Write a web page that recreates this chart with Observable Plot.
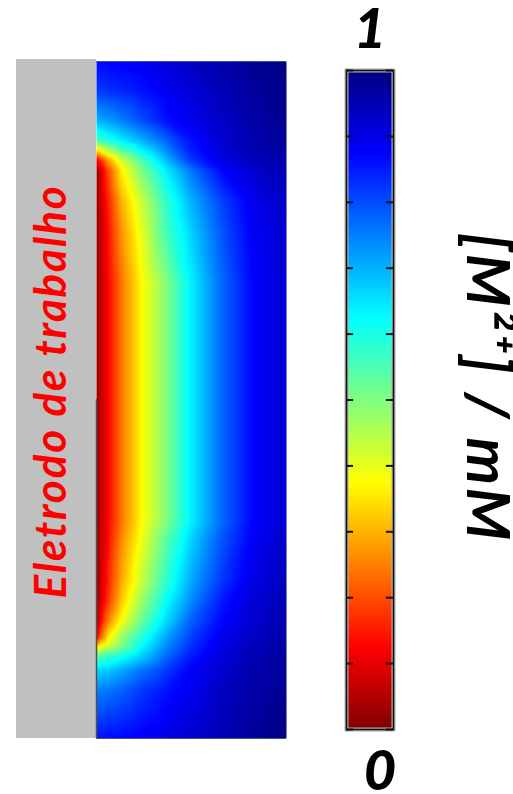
<!DOCTYPE html>
<html>
<head>
<meta charset="utf-8">
<script src="https://cdn.jsdelivr.net/npm/d3@7"></script>
<script src="https://cdn.jsdelivr.net/npm/@observablehq/plot@0.6"></script>
<style>
  html, body { margin: 0; padding: 0; background: #fff; }
  #wrap { position: relative; width: 513px; height: 794px; overflow: hidden; }
  #field, #bar { position: absolute; top: 0; }
  #field { left: 0; }
  #bar { left: 330px; }
  .elabel text { letter-spacing: 1.8px; }
  .alabel text { letter-spacing: 3px; }
</style>
</head>
<body>
<div id="wrap"><div id="field"></div><div id="bar"></div></div>
<script>
// ---- data ----
// Sample positions across the cell (distance from electrode wall) and down the cell
const xCols = [0, 4, 12, 25, 45, 70, 95, 125, 155, 190];
const yRows = [0, 29, 59, 79, 89, 99, 109, 139, 170, 220, 460, 479, 520, 539, 559, 574, 584, 594, 609, 629, 677];
// Normalised concentration [M2+] (0..1) at each (row, column)
const conc = [
  [0.87, 0.87, 0.875, 0.88, 0.89, 0.91, 0.935, 0.96, 0.98, 0.995],
  [0.82, 0.82, 0.83, 0.84, 0.86, 0.89, 0.915, 0.945, 0.97, 0.99],
  [0.70, 0.71, 0.72, 0.75, 0.80, 0.86, 0.89, 0.93, 0.96, 0.98],
  [0.55, 0.57, 0.60, 0.64, 0.70, 0.78, 0.86, 0.92, 0.95, 0.975],
  [0.33, 0.38, 0.46, 0.54, 0.63, 0.74, 0.85, 0.91, 0.95, 0.97],
  [0.10, 0.17, 0.28, 0.42, 0.55, 0.69, 0.82, 0.90, 0.94, 0.96],
  [0.02, 0.08, 0.20, 0.36, 0.50, 0.64, 0.76, 0.87, 0.92, 0.95],
  [0.02, 0.07, 0.16, 0.30, 0.43, 0.58, 0.70, 0.81, 0.89, 0.935],
  [0.02, 0.06, 0.14, 0.27, 0.40, 0.56, 0.67, 0.79, 0.88, 0.925],
  [0.02, 0.06, 0.13, 0.24, 0.37, 0.50, 0.64, 0.77, 0.87, 0.92],
  [0.02, 0.06, 0.13, 0.24, 0.37, 0.50, 0.64, 0.77, 0.87, 0.92],
  [0.02, 0.06, 0.14, 0.26, 0.39, 0.54, 0.67, 0.79, 0.88, 0.93],
  [0.02, 0.07, 0.16, 0.29, 0.43, 0.58, 0.71, 0.82, 0.90, 0.94],
  [0.02, 0.08, 0.18, 0.32, 0.47, 0.62, 0.74, 0.85, 0.91, 0.95],
  [0.03, 0.12, 0.25, 0.38, 0.52, 0.66, 0.78, 0.87, 0.92, 0.955],
  [0.08, 0.20, 0.35, 0.47, 0.58, 0.71, 0.81, 0.89, 0.93, 0.96],
  [0.33, 0.36, 0.42, 0.50, 0.62, 0.74, 0.83, 0.90, 0.94, 0.965],
  [0.52, 0.54, 0.57, 0.60, 0.67, 0.77, 0.85, 0.91, 0.945, 0.97],
  [0.66, 0.67, 0.68, 0.71, 0.76, 0.82, 0.88, 0.92, 0.955, 0.975],
  [0.75, 0.75, 0.76, 0.78, 0.82, 0.86, 0.89, 0.935, 0.96, 0.98],
  [0.86, 0.86, 0.865, 0.87, 0.885, 0.90, 0.925, 0.95, 0.975, 0.995]
];
// Geometry of the domain and of the electrode block
const cellExtent = {x1: 0, x2: 190, y1: 0, y2: 677};
const electrode = [{x1: -80, x2: 0, y1: -2, y2: 677}];
const wallEdge = [{x: 0, y1: 338, y2: 677}];
const electrodeLabel = ["Eletrodo de trabalho"];
// Colour bar
const jetStops = [0, 0.125, 0.375, 0.625, 0.875, 1];
const jetColors = ["#800000", "#ff0000", "#ffff00", "#00ffff", "#0000ff", "#000080"];
const barTicks = [0, 0.1, 0.2, 0.3, 0.4, 0.5, 0.6, 0.7, 0.8, 0.9, 1];
const barLabels = [{v: 1, t: "1"}, {v: 0, t: "0"}];
const axisLabel = ["[M²⁺] / mM"];

// ---- build table for the raster ----
const points = [];
yRows.forEach((yy, i) => xCols.forEach((xx, j) => points.push({x: xx, y: yy, v: conc[i][j]})));

const colorScale = {type: "linear", domain: jetStops, range: jetColors, interpolate: "rgb"};
const font = {fontFamily: "Lato, 'Open Sans', sans-serif", fontWeight: "bold", fontStyle: "italic"};

const field = Plot.plot({
  width: 300, height: 794,
  marginLeft: 16, marginRight: 14, marginTop: 61, marginBottom: 56,
  x: {domain: [-80, 190], axis: null},
  y: {domain: [0, 677], reverse: true, axis: null},
  color: colorScale,
  style: {background: "transparent", overflow: "visible"},
  marks: [
    Plot.rect(electrode, {x1: "x1", x2: "x2", y1: "y1", y2: "y2", fill: "#c0c0c0"}),
    Plot.raster(points, {x: "x", y: "y", fill: "v", interpolate: "barycentric", ...cellExtent}),
    Plot.ruleY([cellExtent.y1], {x1: cellExtent.x1, x2: cellExtent.x2, stroke: "#4848a0", strokeWidth: 1}),
    Plot.ruleY([cellExtent.y2], {x1: cellExtent.x1, x2: cellExtent.x2, stroke: "#50507a", strokeWidth: 1}),
    Plot.ruleX(wallEdge, {x: "x", y1: "y1", y2: "y2", stroke: "#505050", strokeWidth: 1.5}),
    Plot.text(electrodeLabel, {x: -45, y: 330, rotate: -90, fill: "#ff0000", fontSize: 44, className: "elabel", ...font})
  ]
});
document.getElementById("field").appendChild(field);

const bar = Plot.plot({
  width: 183, height: 794,
  marginLeft: 16, marginRight: 120, marginTop: 70, marginBottom: 65,
  x: {domain: [0, 1], axis: null},
  y: {domain: [0, 1], axis: null},
  color: colorScale,
  style: {background: "transparent", overflow: "visible"},
  marks: [
    Plot.raster({fill: (x, y) => y, x1: 0, x2: 1, y1: 0, y2: 1}),
    Plot.frame({stroke: "#b0b0b0", strokeWidth: 4}),
    Plot.frame({stroke: "#111", strokeWidth: 1.6}),
    Plot.ruleY(barTicks, {y: d => d, x1: 0, x2: 0.15, stroke: "#111", strokeWidth: 2}),
    Plot.ruleY(barTicks, {y: d => d, x1: 0.85, x2: 1, stroke: "#111", strokeWidth: 2}),
    Plot.text(barLabels.filter(d => d.v === 1), {x: 0.5, y: "v", text: "t", dy: -40, fontSize: 56, fontFamily: "Lato, sans-serif", fontWeight: 900, fontStyle: "italic", fill: "#000"}),
    Plot.text(barLabels.filter(d => d.v === 0), {x: 0.5, y: "v", text: "t", dx: 10, dy: 43, fontSize: 56, fontFamily: "Lato, sans-serif", fontWeight: 900, fontStyle: "italic", fill: "#000"}),
    Plot.text(axisLabel, {frameAnchor: "middle", dx: 116, dy: -12, rotate: 90, fontSize: 60, fill: "#000", className: "alabel", ...font})
  ]
});
document.getElementById("bar").appendChild(bar);
</script>
</body>
</html>
